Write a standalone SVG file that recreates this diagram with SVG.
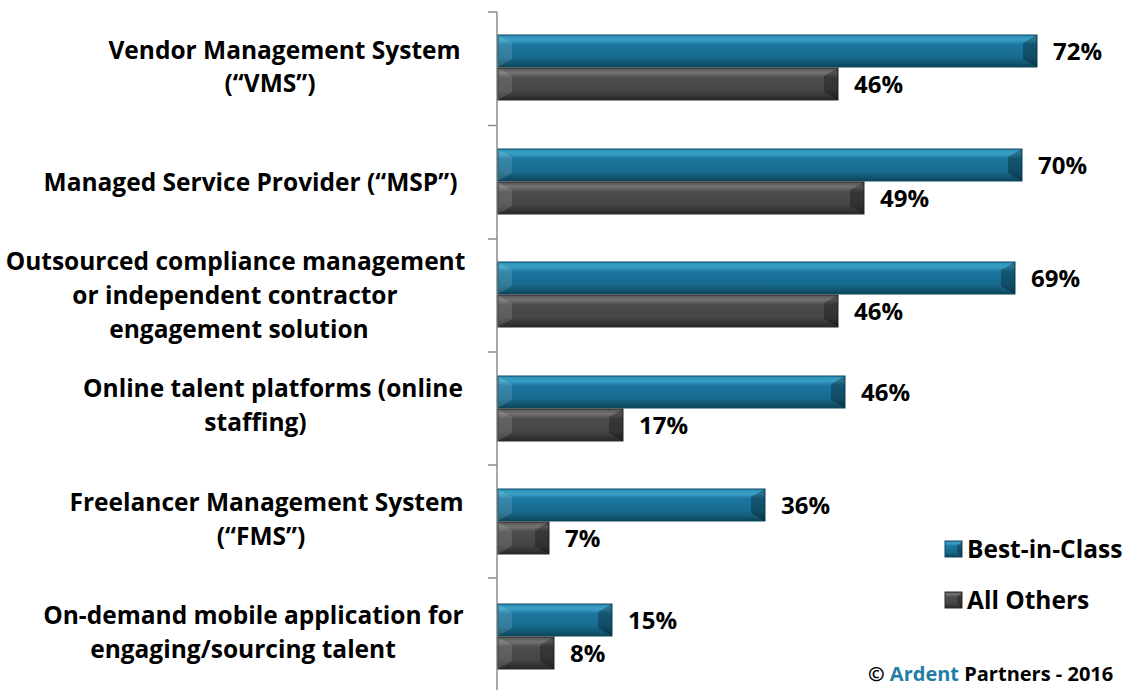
<svg xmlns="http://www.w3.org/2000/svg" width="1125" height="690" viewBox="0 0 1125 690">
<defs>
<linearGradient id="gb" x1="0" y1="0" x2="0" y2="1">
<stop offset="0" stop-color="#2b8db5"/><stop offset="0.15" stop-color="#3a9fc6"/><stop offset="0.3" stop-color="#1c77a0"/><stop offset="0.7" stop-color="#176a8e"/><stop offset="0.88" stop-color="#11566f"/><stop offset="1" stop-color="#0c4258"/>
</linearGradient>
<linearGradient id="gg" x1="0" y1="0" x2="0" y2="1">
<stop offset="0" stop-color="#555"/><stop offset="0.15" stop-color="#737373"/><stop offset="0.3" stop-color="#4d4d4d"/><stop offset="0.7" stop-color="#464646"/><stop offset="0.88" stop-color="#353535"/><stop offset="1" stop-color="#262626"/>
</linearGradient>
</defs>
<style>
.t{font-family:"Open Sans","Liberation Sans",sans-serif;font-weight:bold;font-size:24.5px;fill:#000}
.v{font-size:24px}
.lab{text-anchor:middle}
.b{fill:url(#gb);stroke:#0d4a63;stroke-width:1}
.g{fill:url(#gg);stroke:#2a2a2a;stroke-width:1}
.hl{fill:#ffffff;fill-opacity:0.12}
.sh{fill:#000000;fill-opacity:0.28}
.ax{stroke:#8c8c8c;stroke-width:1.5;fill:none}
</style>
<rect width="1125" height="690" fill="#fff"/>
<g id="axis">
<path class="ax" d="M497,12V690M488,12H497M488,125.5H497M488,239H497M488,352H497M488,465H497M488,578H497"/>
</g>
<g id="labels">
<text class="t lab" x="284.5" y="59">Vendor Management System</text>
<text class="t lab" x="270" y="92">(“VMS”)</text>
<text class="t lab" x="250.5" y="191">Managed Service Provider (“MSP”)</text>
<text class="t lab" x="235.5" y="270">Outsourced compliance management</text>
<text class="t lab" x="235" y="304">or independent contractor</text>
<text class="t lab" x="239" y="338">engagement solution</text>
<text class="t lab" x="273" y="397">Online talent platforms (online</text>
<text class="t lab" x="255.5" y="431">staffing)</text>
<text class="t lab" x="266.5" y="511">Freelancer Management System</text>
<text class="t lab" x="261" y="545">(“FMS”)</text>
<text class="t lab" x="253.5" y="624">On-demand mobile application for</text>
<text class="t lab" x="243" y="658">engaging/sourcing talent</text>
</g>
<g id="bars">
<rect class="b" x="498" y="35" width="539" height="32"/><polygon class="hl" points="498,35 512,43 512,59 498,67"/><polygon class="sh" points="1037,35 1023,43 1023,59 1037,67"/>
<rect class="g" x="498" y="68" width="340" height="32"/><polygon class="hl" points="498,68 512,76 512,92 498,100"/><polygon class="sh" points="838,68 824,76 824,92 838,100"/>
<rect class="b" x="498" y="149" width="524" height="32"/><polygon class="hl" points="498,149 512,157 512,173 498,181"/><polygon class="sh" points="1022,149 1008,157 1008,173 1022,181"/>
<rect class="g" x="498" y="182" width="366" height="32"/><polygon class="hl" points="498,182 512,190 512,206 498,214"/><polygon class="sh" points="864,182 850,190 850,206 864,214"/>
<rect class="b" x="498" y="262" width="517" height="32"/><polygon class="hl" points="498,262 512,270 512,286 498,294"/><polygon class="sh" points="1015,262 1001,270 1001,286 1015,294"/>
<rect class="g" x="498" y="295" width="340" height="32"/><polygon class="hl" points="498,295 512,303 512,319 498,327"/><polygon class="sh" points="838,295 824,303 824,319 838,327"/>
<rect class="b" x="498" y="376" width="347" height="32"/><polygon class="hl" points="498,376 512,384 512,400 498,408"/><polygon class="sh" points="845,376 831,384 831,400 845,408"/>
<rect class="g" x="498" y="409" width="125" height="32"/><polygon class="hl" points="498,409 512,417 512,433 498,441"/><polygon class="sh" points="623,409 609,417 609,433 623,441"/>
<rect class="b" x="498" y="489" width="267" height="32"/><polygon class="hl" points="498,489 512,497 512,513 498,521"/><polygon class="sh" points="765,489 751,497 751,513 765,521"/>
<rect class="g" x="498" y="522" width="51" height="32"/><polygon class="hl" points="498,522 512,530 512,546 498,554"/><polygon class="sh" points="549,522 535,530 535,546 549,554"/>
<rect class="b" x="498" y="604" width="114" height="32"/><polygon class="hl" points="498,604 512,612 512,628 498,636"/><polygon class="sh" points="612,604 598,612 598,628 612,636"/>
<rect class="g" x="498" y="637" width="56" height="32"/><polygon class="hl" points="498,637 512,645 512,661 498,669"/><polygon class="sh" points="554,637 540,645 540,661 554,669"/>
</g>
<g id="values">
<text class="t v" x="1053" y="60">72%</text>
<text class="t v" x="854" y="93">46%</text>
<text class="t v" x="1038" y="174">70%</text>
<text class="t v" x="880" y="207">49%</text>
<text class="t v" x="1031" y="287">69%</text>
<text class="t v" x="854" y="320">46%</text>
<text class="t v" x="861" y="401">46%</text>
<text class="t v" x="639" y="434">17%</text>
<text class="t v" x="781" y="514">36%</text>
<text class="t v" x="565" y="547">7%</text>
<text class="t v" x="628" y="629">15%</text>
<text class="t v" x="570" y="662">8%</text>
</g>
<g id="legend">
<rect class="b" x="945" y="541" width="17" height="16"/><polygon class="sh" points="962,541 957,546 957,552 962,557"/>
<text class="t" x="967" y="558">Best-in-Class</text>
<rect class="g" x="945" y="592" width="17" height="16"/><polygon class="sh" points="962,592 957,597 957,603 962,608"/>
<text class="t" x="967" y="609">All Others</text>
</g>
<text class="t" x="868" y="681" style="font-size:20px">© <tspan fill="#1f7ea6">Ardent</tspan> Partners - 2016</text>
</svg>
